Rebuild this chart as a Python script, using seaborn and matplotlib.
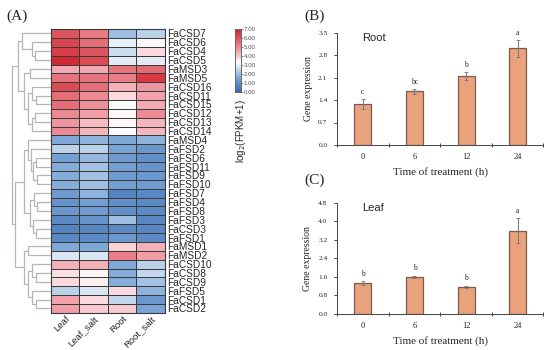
import numpy as np
import pandas as pd
import seaborn as sns
import matplotlib
matplotlib.use('Agg')
import matplotlib.pyplot as plt
from matplotlib.colors import LinearSegmentedColormap


GENES = ['FaCSD7', 'FaCSD6', 'FaCSD4', 'FaCSD5', 'FaMSD3', 'FaMSD5', 'FaCSD16',
         'FaCSD11', 'FaCSD15', 'FaCSD12', 'FaCSD13', 'FaCSD14', 'FaMSD4',
         'FaFSD2', 'FaFSD6', 'FaFSD11', 'FaFSD9', 'FaFSD10', 'FaFSD7', 'FaFSD4',
         'FaFSD8', 'FaFSD3', 'FaCSD3', 'FaFSD1', 'FaMSD1', 'FaMSD2', 'FaCSD10',
         'FaCSD8', 'FaCSD9', 'FaFSD5', 'FaCSD1', 'FaCSD2']
TISSUES = ['Leaf', 'Leaf_salt', 'Root', 'Root_salt']

leaf = [6.0, 6.3, 6.4, 6.8, 4.5, 5.4, 6.2, 5.5, 5.5, 5.0, 4.8, 5.0, 1.6, 2.4,
        1.4, 1.7, 1.7, 1.7, 1.3, 1.1, 1.2, 0.9, 0.7, 0.8, 1.6, 2.8, 4.4, 3.7,
        3.8, 2.4, 4.6, 4.7]
leaf_salt = [5.3, 5.5, 6.0, 6.2, 4.5, 5.4, 5.5, 5.0, 4.9, 4.7, 4.2, 4.3, 1.8,
             2.4, 1.9, 2.1, 2.1, 2.0, 1.8, 1.4, 1.3, 1.1, 0.8, 0.9, 1.6, 2.8,
             4.4, 3.4, 3.5, 2.8, 3.8, 4.0]
root = [2.0, 3.0, 2.6, 2.9, 5.4, 5.2, 4.4, 3.8, 3.2, 3.4, 3.4, 3.2, 1.6, 1.5,
        1.3, 1.4, 1.3, 1.4, 0.7, 1.0, 1.0, 2.0, 0.9, 1.2, 3.9, 5.2, 1.6, 1.7,
        1.7, 3.8, 2.5, 4.0]
root_salt = [2.4, 3.4, 3.8, 2.9, 5.6, 6.5, 4.8, 4.6, 4.5, 5.0, 4.3, 4.3, 1.8,
             1.2, 1.0, 1.1, 1.2, 1.3, 0.8, 0.9, 0.9, 0.8, 0.8, 0.9, 4.4, 4.7,
             2.4, 2.5, 2.1, 1.8, 1.2, 1.5]

# row tree: (child a, child b, height); ids >= 32 are merged nodes
MERGES = [(2, 3, 4.0), (1, 32, 5.0), (0, 33, 7.5), (4, 5, 5.5), (7, 8, 3.8),
          (6, 36, 5.0), (9, 10, 4.0), (38, 11, 4.8), (37, 39, 6.0),
          (35, 40, 7.0), (34, 41, 8.5), (14, 15, 3.8), (16, 17, 3.6),
          (43, 44, 4.5), (13, 45, 5.2), (12, 46, 6.0), (19, 20, 3.6),
          (18, 48, 4.3), (22, 23, 3.8), (21, 50, 4.5), (49, 51, 5.5),
          (47, 52, 7.0), (24, 25, 6.0), (27, 28, 3.8), (26, 55, 4.8),
          (30, 31, 3.8), (29, 57, 4.8), (56, 58, 5.8), (54, 59, 7.0),
          (53, 60, 9.3), (42, 61, 10.0)]

TIMES = ['0', '6', '12', '24']
root_expr = [1.28, 1.67, 2.16, 3.02]
root_err = [0.15, 0.07, 0.12, 0.26]
root_sig = ['c', 'bc', 'b', 'a']
leaf_expr = [1.35, 1.61, 1.17, 3.60]
leaf_err = [0.08, 0.05, 0.06, 0.54]
leaf_sig = ['b', 'b', 'b', 'a']

SERIF = 'Liberation Serif'
SANS = 'Liberation Sans'
BAR_COLOR = '#eaa27c'
BAR_EDGE = '#7a5a50'


def _dendrogram(ax):
    n = len(GENES)
    pos = {i: (i + 0.5, 0.0) for i in range(n)}
    for k, (a, b, h) in enumerate(MERGES):
        ya, ha = pos[a]
        yb, hb = pos[b]
        ax.plot([ha, h, h, hb], [ya, ya, yb, yb], color='#bcb2b2', lw=0.9,
                solid_joinstyle='miter')
        pos[n + k] = ((ya + yb) / 2, h)
    ax.set_ylim(n, 0)
    ax.set_xlim(10.6, 0)
    ax.axis('off')


def _heatmap(fig):
    df = pd.DataFrame({'Leaf': leaf, 'Leaf_salt': leaf_salt,
                       'Root': root, 'Root_salt': root_salt}, index=GENES)
    cmap = LinearSegmentedColormap.from_list(
        'bwr_fpkm', [(0.0, '#3467ae'), (0.22, '#7aa5d6'), (0.47, '#ffffff'),
                     (0.6, '#f6bcc2'), (0.714, '#ec8a94'), (1.0, '#d11f29')])

    ax = fig.add_axes([0.0927, 0.106, 0.207, 0.811])
    cax = fig.add_axes([0.427, 0.737, 0.011, 0.18])
    sns.heatmap(df, ax=ax, cbar_ax=cax, cmap=cmap, vmin=0, vmax=7,
                linewidths=0.7, linecolor='#3a3a3a',
                cbar_kws={'ticks': range(8), 'format': '%.2f'})
    for s in ax.spines.values():
        s.set_visible(True)
        s.set_color('#3a3a3a')
        s.set_linewidth(0.8)

    ax.yaxis.tick_right()
    ax.set_yticks(np.arange(len(GENES)) + 0.5)
    ax.set_yticklabels(GENES, rotation=0, fontsize=7.3, family=SANS)
    ax.set_xticklabels(TISSUES, rotation=45, ha='right',
                       rotation_mode='anchor', fontsize=6.8, family=SANS)
    ax.tick_params(axis='y', length=0, pad=2)
    ax.tick_params(axis='x', length=0, pad=1)
    ax.set_xlabel('')
    ax.set_ylabel('')

    cax.tick_params(labelsize=4.4, length=1.5, width=0.5, colors='#555555',
                    pad=0.5)
    for s in cax.spines.values():
        s.set_visible(True)
        s.set_edgecolor('#666666')
        s.set_linewidth(0.6)
    fig.text(0.438, 0.626, 'log$_2$(FPKM+1)', rotation=90, fontsize=7,
             family=SANS, ha='center', va='center')

    dax = fig.add_axes([0.018, 0.106, 0.0745, 0.811])
    _dendrogram(dax)


def _bars(ax, expr, err, sig, ymax, step, title):
    df = pd.DataFrame({'time': TIMES, 'expr': expr})
    sns.barplot(data=df, x='time', y='expr', ax=ax, color=BAR_COLOR,
                edgecolor=BAR_EDGE, linewidth=0.9, width=0.33, errorbar=None,
                saturation=1)
    xs = np.arange(len(TIMES))
    ax.errorbar(xs, expr, yerr=err, fmt='none', ecolor='#777777',
                elinewidth=0.7, capsize=1.5, capthick=0.6)
    for x, v, e, s in zip(xs, expr, err, sig):
        ax.text(x, v + e + ymax * 0.03, s, ha='center', va='bottom',
                fontsize=5.5, family=SERIF)

    ax.set_xlim(-0.5, len(TIMES) - 0.5)
    ax.set_ylim(0, ymax)
    ax.set_yticks(np.arange(0, ymax + 1e-6, step))
    ax.yaxis.set_major_formatter(plt.FormatStrFormatter('%.1f'))
    ax.set_xticks(np.arange(len(TIMES) + 1) - 0.5, minor=True)
    ax.tick_params(axis='x', which='major', length=0, labelsize=6, pad=6)
    ax.tick_params(axis='x', which='minor', length=2.5, direction='inout',
                   width=0.6)
    ax.tick_params(axis='y', length=2, width=0.6, labelsize=5.3, pad=5)
    for lab in ax.get_xticklabels() + ax.get_yticklabels():
        lab.set_family(SERIF)
    sns.despine(ax=ax)
    for s in ax.spines.values():
        s.set_linewidth(0.7)
        s.set_color('#444444')
    ax.set_ylabel('Gene expression', fontsize=7, family=SERIF, labelpad=4)
    ax.set_xlabel('Time of treatment (h)', fontsize=8, family=SERIF,
                  labelpad=4)
    ax.text(0.12, 1.0, title, transform=ax.transAxes, fontsize=8,
            family=SANS, va='top')


def main():
    sns.set_style('ticks')
    plt.rcParams['font.family'] = [SANS, 'DejaVu Sans']

    fig = plt.figure(figsize=(5.5, 3.5), dpi=100)
    _heatmap(fig)

    ax_b = fig.add_axes([0.613, 0.586, 0.375, 0.32])
    _bars(ax_b, root_expr, root_err, root_sig, 3.5, 0.7, 'Root')
    ax_c = fig.add_axes([0.613, 0.103, 0.375, 0.317])
    _bars(ax_c, leaf_expr, leaf_err, leaf_sig, 4.8, 0.8, 'Leaf')

    fig.text(0.012, 0.954, '(A)', fontsize=11, family=SERIF, va='center')
    fig.text(0.553, 0.954, '(B)', fontsize=11, family=SERIF, va='center')
    fig.text(0.553, 0.486, '(C)', fontsize=11, family=SERIF, va='center')

    fig.savefig('out.png', dpi=100)
    plt.close(fig)


if __name__ == '__main__':
    main()
